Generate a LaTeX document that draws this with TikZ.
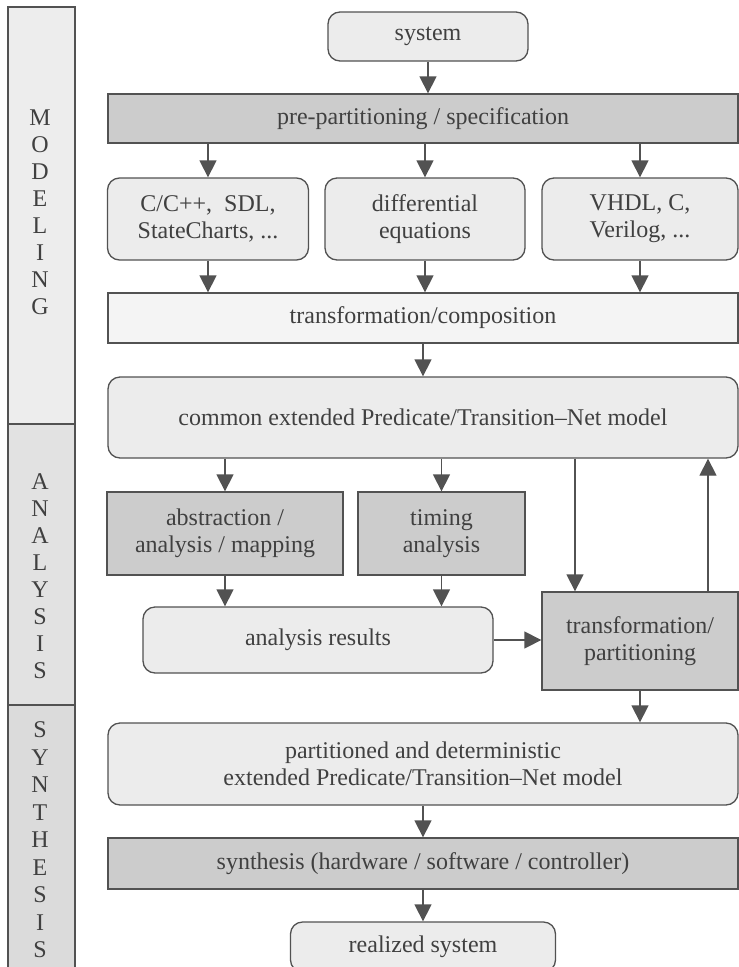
\documentclass[tikz,border=0pt]{standalone}
\usepackage{fontspec}
\setmainfont{Liberation Serif}
\usetikzlibrary{arrows.meta}
\definecolor{boxdark}{gray}{0.80}
\definecolor{boxlight}{gray}{0.925}
\definecolor{boxwhite}{gray}{0.955}
\definecolor{linegray}{gray}{0.32}
\definecolor{textgray}{gray}{0.25}
\tikzset{
	box/.style = {draw = linegray, line width = 1.3pt, text = textgray, align = center,
		inner sep = 0pt, font = \fontsize{24}{27}\selectfont},
	lightbox/.style = {box, fill = boxlight, rounded corners = 12pt},
	darkbox/.style = {box, fill = boxdark},
	flow/.style = {draw = linegray, line width = 1.3pt, -{Triangle[width = 17pt, length = 17pt]}},
	barletter/.style = {text = textgray, inner sep = 0pt, font = \fontsize{24}{27}\selectfont},
	barpart/.style = {draw = linegray, line width = 1.3pt}
}
\begin{document}
\begin{tikzpicture}[x = 1pt, y = -1pt]
		\useasboundingbox (0, 0) rectangle (739, 967);
		\clip (0, 0) rectangle (739, 967);
		% left bar
		\draw[barpart, fill = gray!14] (8, 7) rectangle (75, 424);
		\draw[barpart, fill = gray!23] (8, 424) rectangle (75, 705);
		\draw[barpart, fill = gray!28] (8, 705) rectangle (75, 980);
		\foreach \ch [count = \i] in {M,O,D,E,L,I,N,G}
			\node[barletter] (model\i) at (40, 91 + 27*\i) {\ch};
		\foreach \ch [count = \i] in {A,N,A,L,Y,S,I,S}
			\node[barletter] (anal\i) at (40, 455 + 27*\i) {\ch};
		\foreach \ch [count = \i] in {S,Y,N,T,H,E,S,I,S}
			\node[barletter] (synth\i) at (40, 702.5 + 27.5*\i) {\ch};
		% modeling
		\node[lightbox, minimum width = 200, minimum height = 49] (system) at (428, 36.5) {system};
		\node[darkbox, minimum width = 630, minimum height = 49] (prepart) at (423, 118.5) {pre-partitioning / specification};
		\node[lightbox, minimum width = 201, minimum height = 82] (cpp) at (208, 219) {C/C++,\ \ SDL,\\StateCharts, ...};
		\node[lightbox, minimum width = 200, minimum height = 82] (diffeq) at (425, 219) {differential\\equations};
		\node[lightbox, minimum width = 196, minimum height = 82] (vhdl) at (640, 219) {VHDL, C,\\Verilog, ...};
		\node[box, fill = boxwhite, minimum width = 630, minimum height = 50] (transcomp) at (423, 318) {transformation/composition};
		% analysis
		\node[lightbox, minimum width = 630, minimum height = 81] (common) at (423, 417.5) {common extended Predicate/Transition--Net model};
		\node[darkbox, minimum width = 236, minimum height = 83] (abstraction) at (225, 533.5) {abstraction /\\analysis / mapping};
		\node[darkbox, minimum width = 167, minimum height = 83] (timing) at (441.5, 533.5) {timing\\analysis};
		\node[lightbox, minimum width = 350, minimum height = 66] (results) at (318, 640) {analysis results};
		\node[darkbox, minimum width = 196, minimum height = 98] (transpart) at (640, 641) {transformation/\\partitioning};
		% synthesis
		\node[lightbox, minimum width = 630, minimum height = 82] (partitioned) at (423, 764) {partitioned and deterministic\\extended Predicate/Transition--Net model};
		\node[darkbox, minimum width = 630, minimum height = 51] (synthesis) at (423, 863.5) {synthesis (hardware / software / controller)};
		\node[lightbox, minimum width = 265, minimum height = 50] (realized) at (423, 947) {realized system};
		% arrows
		\draw[flow] (system) -- (prepart.north -| system);
		\foreach \n in {cpp, diffeq, vhdl} {
			\draw[flow] (prepart.south -| \n) -- (\n);
			\draw[flow] (\n) -- (transcomp.north -| \n);
		}
		\draw[flow] (transcomp) -- (common);
		\draw[flow] (common.south -| abstraction) -- (abstraction);
		\draw[flow] (common.south -| timing) -- (timing);
		\draw[flow] (abstraction) -- (results.north -| abstraction);
		\draw[flow] (timing) -- (results.north -| timing);
		\draw[flow] (results.east) -- (results.east -| transpart.west);
		\draw[flow] ([xshift = -65pt]transpart.north |- common.south) -- ([xshift = -65pt]transpart.north);
		\draw[flow] ([xshift = 68pt]transpart.north) -- ([xshift = 68pt]transpart.north |- common.south);
		\draw[flow] (transpart) -- (partitioned.north -| transpart);
		\draw[flow] (partitioned) -- (synthesis);
		\draw[flow] (synthesis) -- (realized);
	\end{tikzpicture}
\end{document}
